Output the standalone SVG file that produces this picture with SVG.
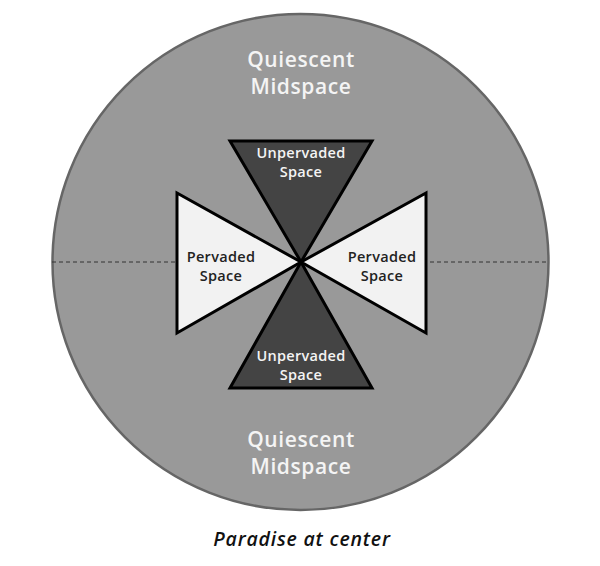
<svg xmlns="http://www.w3.org/2000/svg" width="600" height="566" viewBox="0 0 600 566">
<style>
.tri{stroke:#000;stroke-width:3;stroke-linejoin:miter}
.dark{fill:#444}
.light{fill:#f2f2f2}
.big{font-family:"Open Sans","DejaVu Sans",sans-serif;font-size:21px;font-weight:600;fill:#f4f4f4;text-anchor:middle;letter-spacing:0.6px}
.lbl{font-family:"Open Sans","DejaVu Sans",sans-serif;font-size:14.5px;font-weight:600;text-anchor:middle;letter-spacing:0.3px}
.lw{fill:#f4f4f4}
.lk{fill:#222}
.cap{font-family:"Open Sans","DejaVu Sans",sans-serif;font-size:19.5px;font-style:italic;font-weight:600;fill:#111;text-anchor:middle;letter-spacing:0.8px}
</style>
<rect width="600" height="566" fill="#fff"/>
<g id="midspace">
<circle cx="300.5" cy="262" r="248" fill="#999" stroke="#666" stroke-width="2.5"/>
<text class="big" x="301" y="67">Quiescent</text>
<text class="big" x="301" y="94">Midspace</text>
<text class="big" x="301" y="447">Quiescent</text>
<text class="big" x="301" y="474">Midspace</text>
</g>
<g id="connectors">
<line x1="52" y1="262" x2="549" y2="262" stroke="#333" stroke-width="1" stroke-dasharray="4,3"/>
</g>
<g id="unpervaded-top">
<polygon class="tri dark" points="230,141 372,141 301,262"/>
<text class="lbl lw" x="301" y="158">Unpervaded</text>
<text class="lbl lw" x="301" y="177">Space</text>
</g>
<g id="unpervaded-bottom">
<polygon class="tri dark" points="230,388 372,388 301,262"/>
<text class="lbl lw" x="301" y="361">Unpervaded</text>
<text class="lbl lw" x="301" y="380">Space</text>
</g>
<g id="pervaded-left">
<polygon class="tri light" points="177,193 177,333 301,262"/>
<text class="lbl lk" x="221" y="262">Pervaded</text>
<text class="lbl lk" x="221" y="281">Space</text>
</g>
<g id="pervaded-right">
<polygon class="tri light" points="426,193 426,333 301,262"/>
<text class="lbl lk" x="382" y="262">Pervaded</text>
<text class="lbl lk" x="382" y="281">Space</text>
</g>
<text class="cap" x="302" y="546">Paradise at center</text>
</svg>
